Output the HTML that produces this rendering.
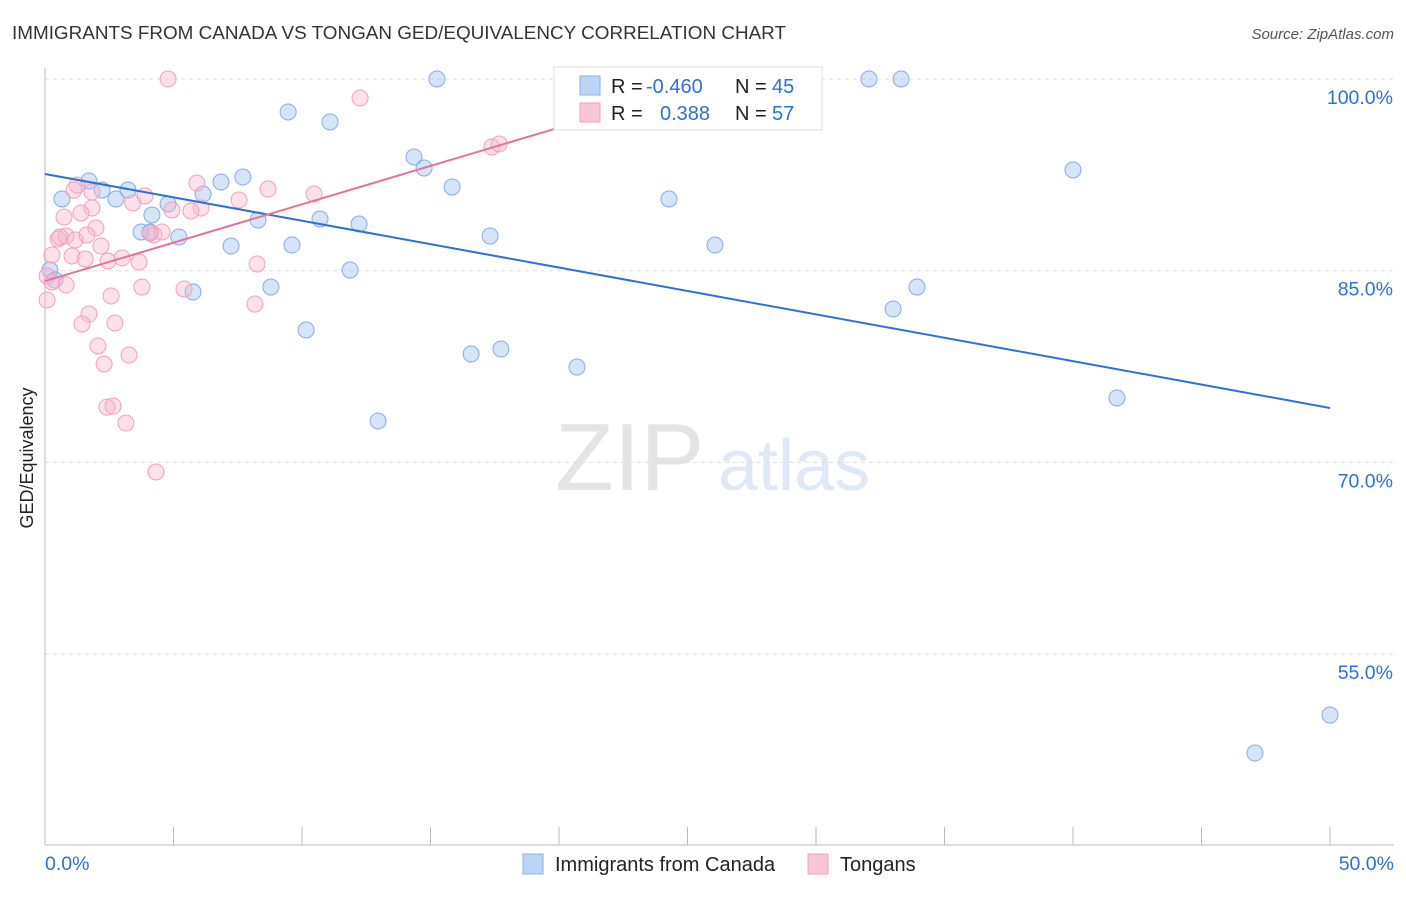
<!DOCTYPE html>
<html><head><meta charset="utf-8"><style>
body{margin:0;background:#fff;font-family:"Liberation Sans",sans-serif;}
svg text{font-family:"Liberation Sans",sans-serif;}
</style></head><body>
<svg id="chart" width="1406" height="892" xmlns="http://www.w3.org/2000/svg">
<text x="12" y="39" font-size="18" fill="#333" textLength="774" lengthAdjust="spacingAndGlyphs">IMMIGRANTS FROM CANADA VS TONGAN GED/EQUIVALENCY CORRELATION CHART</text>
<text x="1394" y="39" font-size="15" fill="#555" text-anchor="end" font-style="italic">Source: ZipAtlas.com</text>
<text x="33" y="458" font-size="18" fill="#222" text-anchor="middle" transform="rotate(-90 33 458)">GED/Equivalency</text>
<text x="555" y="490" font-size="96" fill="#e4e4e4" font-family="Liberation Serif">ZIP</text>
<text x="718" y="490" font-size="72" fill="#dfe8f6">atlas</text>
<g id="grid"></g><g id="axes"></g><g id="pts"></g><g id="lines"></g>
<g>
<rect x="554" y="67" width="268" height="63" fill="#fff" stroke="#ddd"/>
<rect x="580" y="76" width="20" height="19" fill="#bcd3f5" stroke="#8ab0e8"/>
<rect x="580" y="103" width="20" height="19" fill="#f9c6d6" stroke="#f0a0bc"/>
<text x="611" y="93" font-size="20" fill="#222">R = <tspan fill="#2f6fd6" x="646">-0.460</tspan></text>
<text x="735" y="93" font-size="20" fill="#222">N = <tspan fill="#2f6fd6" x="772">45</tspan></text>
<text x="611" y="120" font-size="20" fill="#222">R = <tspan fill="#2f6fd6" x="660">0.388</tspan></text>
<text x="735" y="120" font-size="20" fill="#222">N = <tspan fill="#2f6fd6" x="772">57</tspan></text>
</g>
<g>
<rect x="523" y="854" width="20" height="20" fill="#bcd3f5" stroke="#8ab0e8"/>
<text x="555" y="871" font-size="20" fill="#222">Immigrants from Canada</text>
<rect x="808" y="854" width="20" height="20" fill="#f9c6d6" stroke="#f0a0bc"/>
<text x="840" y="871" font-size="20" fill="#222">Tongans</text>
</g>
</svg>
<script>
const blueX=[0.66,1.71,2.22,2.76,3.23,3.74,4.16,4.79,5.21,5.76,6.15,6.85,7.24,7.70,8.29,8.79,9.46,9.61,10.16,10.70,11.09,11.87,12.22,12.96,14.36,14.75,15.25,15.84,16.58,17.32,17.74,20.70,24.28,26.07,32.06,33.00,33.31,33.93,40.00,41.71,50.0,47.08,0.19,0.39,4.09];
const blueY=[90.61,92.02,91.31,90.61,91.31,88.03,89.36,90.22,87.64,83.33,91.00,91.94,86.93,92.33,88.97,83.72,97.42,87.01,80.36,89.05,96.64,85.05,88.65,73.24,93.90,93.04,100,91.55,78.48,87.72,78.87,77.46,90.61,87.01,100,82.00,100,83.72,92.88,75.04,50.23,47.26,85.05,84.27,88.03];
const pinkX=[4.79,12.26,17.39,17.67,1.25,1.13,5.91,8.68,10.47,3.89,3.42,1.83,0.74,1.40,4.94,6.07,5.68,7.55,1.98,0.51,0.82,1.17,1.63,4.24,4.55,2.18,0.27,1.05,1.56,2.45,3.00,3.66,8.25,0.08,0.82,3.77,5.41,2.57,1.71,1.44,2.72,8.17,0.08,2.06,3.27,2.30,2.41,2.65,3.15,4.32,0.27,0.58,4.09,1.83];
const pinkY=[100,98.51,94.68,94.91,91.71,91.31,91.86,91.39,91.00,90.85,90.30,89.91,89.20,89.51,89.75,89.91,89.67,90.53,88.34,87.48,87.72,87.40,87.79,87.79,88.03,86.93,86.23,86.15,85.92,85.76,85.99,85.68,85.52,84.59,83.88,83.72,83.57,83.02,81.61,80.83,80.91,82.39,82.71,79.11,78.40,77.70,74.33,74.41,73.08,69.25,84.12,87.64,87.95,91.16];
const blueTrend=[[0,92.57],[50,74.26]];
const pinkTrend=[[0,84.19],[20,96.2]];
const yTicks=[100,85,70,55];
const NS="http://www.w3.org/2000/svg";
const X=v=>45+v*25.7, Y=v=>79+(100-v)*12.78;
function mk(t,a,p){const e=document.createElementNS(NS,t);for(const k in a)e.setAttribute(k,a[k]);document.getElementById(p).appendChild(e);return e;}
yTicks.forEach(t=>{
 const l=mk('line',{x1:45,x2:1394,y1:Y(t),y2:Y(t),stroke:'#ddd','stroke-dasharray':'4,4'},'grid');
 
 
 const tx=mk('text',{x:1393,y:Y(t)+25,'font-size':19.5,fill:'#2f6fd6','text-anchor':'end'},'grid');tx.textContent=t.toFixed(1)+'%';
 
 
});
mk('line',{x1:45,x2:45,y1:68,y2:845,stroke:'#bbb'},'axes');
mk('line',{x1:45,x2:1394,y1:845,y2:845,stroke:'#bbb'},'axes');
for(let i=0;i<=10;i++){mk('line',{x1:X(i*5),x2:X(i*5),y1:827,y2:845,stroke:'#bbb'},'axes');}
let t0=mk('text',{x:45,y:870,'font-size':19.5,fill:'#2f6fd6'},'axes');t0.textContent='0.0%';


let t1=mk('text',{x:1394,y:870,'font-size':19.5,fill:'#2f6fd6','text-anchor':'end'},'axes');t1.textContent='50.0%';


blueX.forEach((x,i)=>{const c=mk('circle',{cx:X(x),cy:Y(blueY[i]),r:8,fill:'rgba(165,195,240,0.45)',stroke:'#85ace6','stroke-width':1},'pts');
 
 });
pinkX.forEach((x,i)=>{const c=mk('circle',{cx:X(x),cy:Y(pinkY[i]),r:8,fill:'rgba(248,180,202,0.4)',stroke:'#f0a0bc','stroke-width':1},'pts');
 
 });
const bl=mk('line',{x1:X(blueTrend[0][0]),y1:Y(blueTrend[0][1]),x2:X(blueTrend[1][0]),y2:Y(blueTrend[1][1]),stroke:'#2f6fd6','stroke-width':2},'lines');


const pl=mk('line',{x1:X(pinkTrend[0][0]),y1:Y(pinkTrend[0][1]),x2:X(pinkTrend[1][0]),y2:Y(pinkTrend[1][1]),stroke:'#e8709a','stroke-width':2},'lines');


</script>
</body></html>
